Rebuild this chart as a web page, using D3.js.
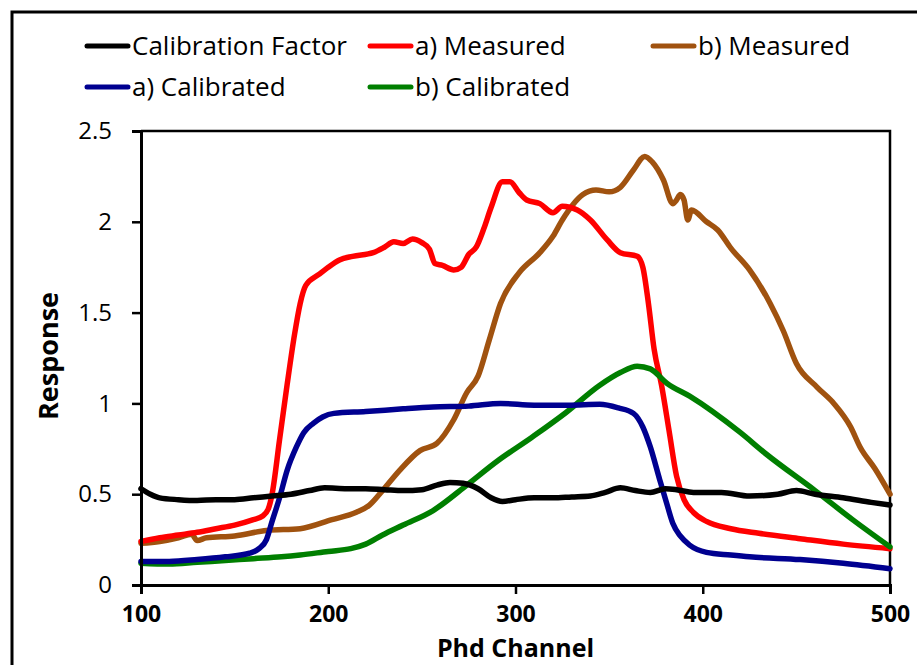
<!DOCTYPE html>
<html>
<head>
<meta charset="utf-8">
<script src="https://cdn.jsdelivr.net/npm/d3@7"></script>
<style>
  body { margin: 0; background: #fff; }
  text { font-family: "Open Sans", sans-serif; fill: #000; }
</style>
</head>
<body>
<div id="chart"></div>
<script>
// channel, response pairs
var calibFactor = [[100,0.53],[105,0.50],[110,0.48],[120,0.47],[130,0.465],[140,0.47],[150,0.47],[160,0.48],[170,0.49],[180,0.50],[190,0.52],[198,0.535],[210,0.53],[220,0.53],[230,0.525],[240,0.52],[250,0.525],[258,0.55],[265,0.565],[272,0.56],[280,0.53],[287,0.48],[293,0.46],[300,0.47],[310,0.48],[320,0.48],[330,0.485],[340,0.49],[348,0.51],[356,0.535],[364,0.52],[372,0.51],[380,0.53],[386,0.525],[395,0.51],[410,0.51],[425,0.49],[440,0.50],[450,0.52],[460,0.50],[475,0.48],[490,0.455],[500,0.44]];
var aMeasured = [[100,0.24],[110,0.26],[120,0.275],[130,0.29],[140,0.31],[150,0.33],[160,0.36],[165,0.38],[168,0.42],[170,0.50],[174,0.80],[178,1.10],[182,1.38],[185,1.55],[188,1.65],[195,1.71],[200,1.75],[206,1.79],[213,1.81],[224,1.83],[230,1.86],[235,1.89],[240,1.88],[245,1.905],[250,1.885],[254,1.85],[257,1.77],[261,1.76],[267,1.735],[271,1.75],[275,1.82],[279,1.86],[283,1.96],[287,2.08],[293,2.22],[297,2.22],[302,2.16],[306,2.12],[313,2.1],[320,2.05],[325,2.085],[333,2.065],[340,2.01],[349,1.90],[356,1.83],[365,1.81],[368,1.75],[371,1.55],[374,1.3],[378,1.1],[382,0.85],[386,0.6],[390,0.47],[395,0.4],[402,0.35],[415,0.31],[430,0.285],[452,0.255],[475,0.225],[500,0.20]];
var bMeasured = [[100,0.23],[110,0.24],[120,0.26],[127,0.28],[130,0.245],[135,0.26],[150,0.27],[167,0.30],[185,0.31],[202,0.36],[215,0.40],[222,0.44],[229,0.52],[238,0.63],[249,0.74],[258,0.78],[267,0.91],[274,1.06],[280,1.15],[286,1.35],[292,1.55],[302,1.72],[313,1.83],[320,1.92],[325,2.01],[336,2.15],[343,2.175],[350,2.165],[356,2.19],[363,2.285],[369,2.36],[373,2.33],[379,2.23],[384,2.1],[386,2.12],[388,2.15],[390,2.12],[392,2.01],[394,2.065],[402,2.0],[408,1.955],[415,1.855],[425,1.735],[436,1.55],[443,1.40],[450,1.22],[461,1.09],[470,1.0],[479,0.87],[484,0.76],[492,0.64],[500,0.50]];
var aCalibrated = [[100,0.13],[115,0.13],[130,0.14],[145,0.155],[158,0.175],[163,0.2],[167,0.25],[170,0.35],[174,0.48],[178,0.63],[183,0.76],[187,0.84],[192,0.89],[197,0.925],[203,0.945],[220,0.955],[240,0.97],[256,0.98],[275,0.985],[292,1.0],[310,0.99],[328,0.99],[345,0.995],[355,0.975],[363,0.945],[368,0.87],[372,0.76],[377,0.58],[381,0.44],[384,0.34],[388,0.27],[393,0.22],[402,0.18],[415,0.165],[425,0.155],[452,0.14],[475,0.12],[500,0.09]];
var bCalibrated = [[100,0.12],[115,0.115],[130,0.125],[145,0.135],[160,0.145],[175,0.155],[185,0.165],[200,0.185],[212,0.2],[220,0.225],[229,0.275],[240,0.33],[256,0.41],[274,0.55],[290,0.68],[309,0.815],[327,0.95],[345,1.1],[356,1.17],[365,1.205],[372,1.19],[381,1.11],[393,1.04],[420,0.84],[434,0.72],[460,0.52],[480,0.36],[500,0.21]];

var xTicks = [100,200,300,400,500];
var yTicks = [0,0.5,1,1.5,2,2.5];

var series = [
  {name:"Calibration Factor", data:calibFactor, color:"#000000", col:0, row:0},
  {name:"a) Measured", data:aMeasured, color:"#ff0000", col:1, row:0},
  {name:"b) Measured", data:bMeasured, color:"#a0520f", col:2, row:0},
  {name:"a) Calibrated", data:aCalibrated, color:"#000090", col:0, row:1},
  {name:"b) Calibrated", data:bCalibrated, color:"#007f00", col:1, row:1}
];
// draw order: measured first, calibrated and factor on top
var drawOrder = [2,1,4,3,0];

var W = 917, H = 665;
var margin = {top: 131, right: 27, bottom: 80, left: 141};
var width = W - margin.left - margin.right,
    height = H - margin.top - margin.bottom;

var svg = d3.select("#chart").append("svg")
  .attr("width", W).attr("height", H);

// outer frame (cropped on right and bottom)
svg.append("rect")
  .attr("x", 12).attr("y", 12).attr("width", W + 20).attr("height", H + 20)
  .attr("fill", "none").attr("stroke", "#000").attr("stroke-width", 3);

var g = svg.append("g").attr("transform", "translate(" + margin.left + "," + margin.top + ")");

var x = d3.scaleLinear().domain([100, 500]).range([0, width]);
var y = d3.scaleLinear().domain([0, 2.5]).range([height, 0]);

// plot box top/right
g.append("path")
  .attr("d", "M0,0H" + width + "V" + height)
  .attr("fill", "none").attr("stroke", "#000").attr("stroke-width", 2.5);

var line = d3.line()
  .curve(d3.curveMonotoneX)
  .x(function(d) { return x(d[0]); })
  .y(function(d) { return y(d[1]); });

drawOrder.forEach(function(i) {
  var s = series[i];
  g.append("path")
    .datum(s.data)
    .attr("d", line)
    .attr("fill", "none")
    .attr("stroke", s.color)
    .attr("stroke-width", 5.5)
    .attr("stroke-linejoin", "round")
    .attr("stroke-linecap", "round");
});

var yAxis = g.append("g")
  .call(d3.axisLeft(y).tickValues(yTicks).tickSize(9).tickPadding(20)
    .tickFormat(function(d) { return String(d); }));
var xAxis = g.append("g").attr("transform", "translate(0," + height + ")")
  .call(d3.axisBottom(x).tickValues(xTicks).tickSize(9).tickPadding(12));

[yAxis, xAxis].forEach(function(a) {
  a.select(".domain").attr("stroke", "#000").attr("stroke-width", 3);
  a.selectAll(".tick line").attr("stroke", "#000").attr("stroke-width", 2.5);
});
yAxis.selectAll("text").style("font-size", "24px");
xAxis.selectAll("text").style("font-size", "23px").style("font-weight", "bold");

// axis titles
g.append("text")
  .attr("x", width / 2).attr("y", height + 72)
  .attr("text-anchor", "middle")
  .style("font-size", "25px").style("font-weight", "bold")
  .text("Phd Channel");
g.append("text")
  .attr("transform", "translate(" + (-83) + "," + (height / 2 - 2) + ") rotate(-90)")
  .attr("text-anchor", "middle")
  .style("font-size", "27px").style("font-weight", "bold")
  .text("Response");

// legend
var legX = [85, 368, 651], legY = [46, 87];
var leg = svg.append("g");
series.forEach(function(s) {
  var lx = legX[s.col], ly = legY[s.row];
  leg.append("line")
    .attr("x1", lx + 2).attr("x2", lx + 43).attr("y1", ly).attr("y2", ly)
    .attr("stroke", s.color).attr("stroke-width", 5).attr("stroke-linecap", "round");
  leg.append("text")
    .attr("x", lx + 47).attr("y", ly + 9)
    .style("font-size", "26px")
    .text(s.name);
});
</script>
</body>
</html>
